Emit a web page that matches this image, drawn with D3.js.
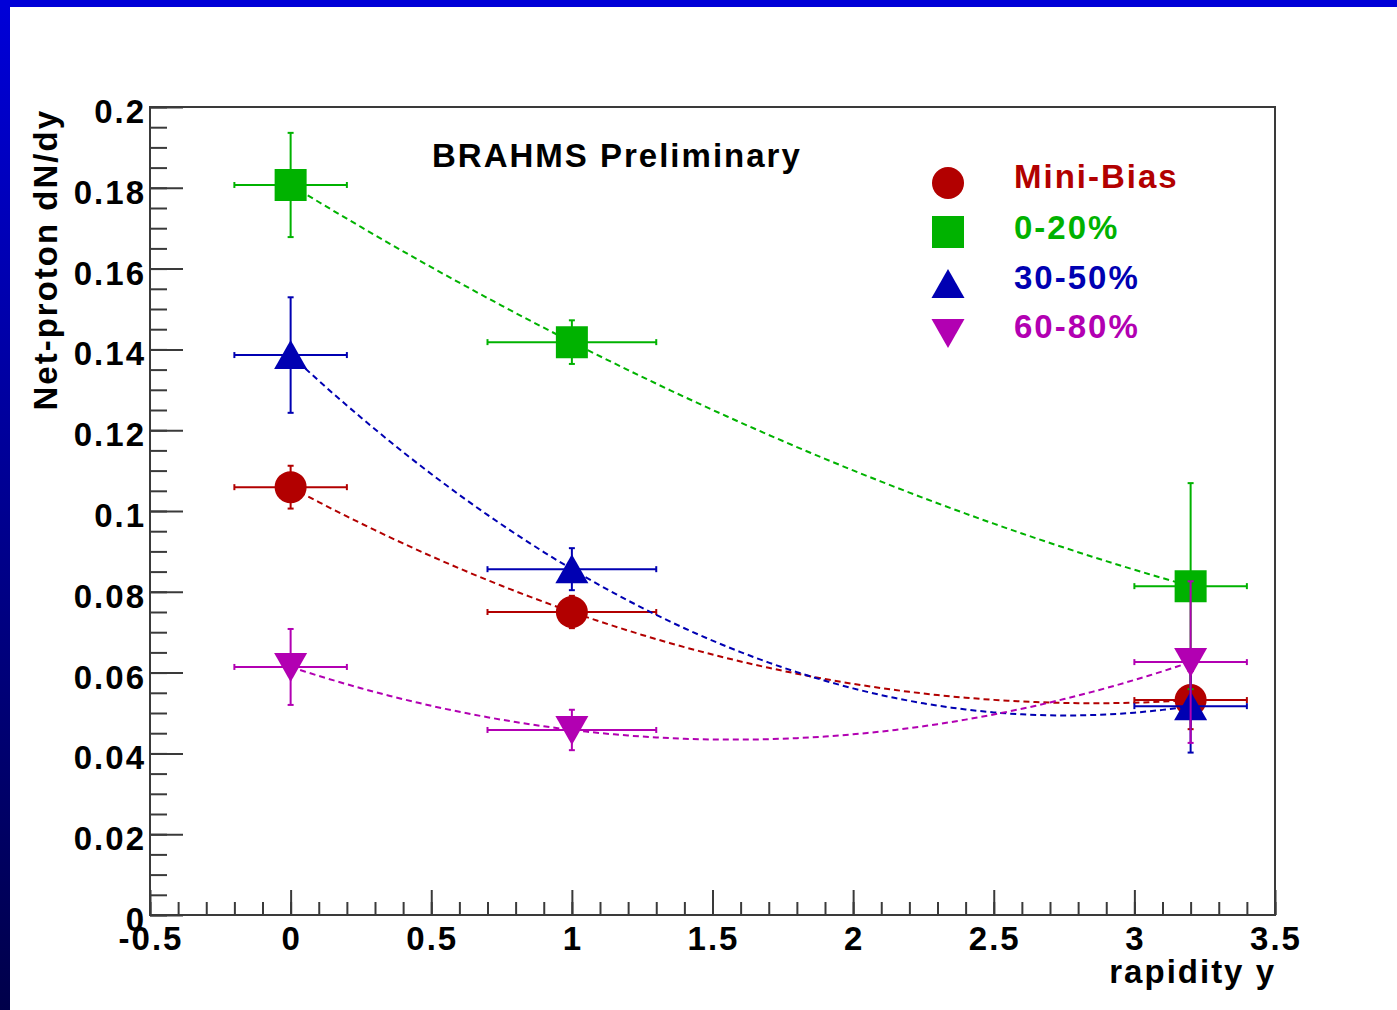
<!DOCTYPE html>
<html>
<head>
    <meta charset="utf-8" />
    <title>Net-proton dN/dy</title>
    <style>
        body {
            margin: 0;
            background: #fff;
        }

        text {
            font-family: "Liberation Sans", Helvetica, Arial, sans-serif;
            font-weight: bold;
            font-size: 33px;
            letter-spacing: 2px;
        }

        .frame {
            fill: none;
            stroke: #3a3a3a;
            stroke-width: 2;
        }

        .tick line {
            stroke: #3a3a3a;
            stroke-width: 2;
        }

        .fit {
            fill: none;
            stroke-width: 2;
            stroke-dasharray: 6, 4;
        }

        .err {
            stroke-width: 2;
        }
    </style>
</head>
<body>
    <script src="https://d3js.org/d3.v7.min.js"></script>
    <script>
        // rapidity bins and horizontal bin half-widths
        let rapidity = [0, 1, 3.2]
        let rapidityErr = [0.2, 0.3, 0.2]

        // net-proton dN/dy per centrality class
        let miniBias = [0.1059, 0.0750, 0.0532]
        let miniBiasErr = [0.0053, 0.0040, 0.0072]

        let cent0020 = [0.1807, 0.1418, 0.0814]
        let cent0020Err = [0.0129, 0.0054, 0.0255]

        let cent3050 = [0.1386, 0.0856, 0.0517]
        let cent3050Err = [0.0143, 0.0052, 0.0115]

        let cent6080 = [0.0614, 0.0458, 0.0626]
        let cent6080Err = [0.0094, 0.0050, 0.0200]

        let seriesNames = ['Mini-Bias', '0-20%', '30-50%', '60-80%']
        let seriesColors = ['#b20000', '#00b200', '#0000b2', '#b200b2']
        let seriesMarkers = ['circle', 'square', 'up', 'down']

        let xTickValues = [-0.5, 0, 0.5, 1, 1.5, 2, 2.5, 3, 3.5]
        let yTickValues = [0, 0.02, 0.04, 0.06, 0.08, 0.1, 0.12, 0.14, 0.16, 0.18, 0.2]

        let series = [
            { name: seriesNames[0], color: seriesColors[0], marker: seriesMarkers[0], y: miniBias, ey: miniBiasErr },
            { name: seriesNames[1], color: seriesColors[1], marker: seriesMarkers[1], y: cent0020, ey: cent0020Err },
            { name: seriesNames[2], color: seriesColors[2], marker: seriesMarkers[2], y: cent3050, ey: cent3050Err },
            { name: seriesNames[3], color: seriesColors[3], marker: seriesMarkers[3], y: cent6080, ey: cent6080Err }
        ]

        let W = 1397, H = 1010
        let frame = { left: 150, right: 1275, top: 107, bottom: 915 }

        let x = d3.scaleLinear().domain([-0.5, 3.5]).range([frame.left, frame.right])
        let y = d3.scaleLinear().domain([0, 0.2]).range([frame.bottom, frame.top])

        let svg = d3.select('body')
                    .append('svg')
                    .attr('width', W)
                    .attr('height', H)

        // slide border
        let defs = svg.append('defs')
        let grad = defs.append('linearGradient')
                    .attr('id', 'sideGrad')
                    .attr('x1', 0).attr('y1', 0)
                    .attr('x2', 0).attr('y2', 1)
        grad.append('stop').attr('offset', '0%').attr('stop-color', '#0000d8')
        grad.append('stop').attr('offset', '100%').attr('stop-color', '#00004a')

        svg.append('rect').attr('x', 0).attr('y', 0).attr('width', W).attr('height', H).attr('fill', '#fff')
        svg.append('rect').attr('x', 0).attr('y', 0).attr('width', 10).attr('height', H).attr('fill', 'url(#sideGrad)')
        svg.append('rect').attr('x', 0).attr('y', 0).attr('width', W).attr('height', 7).attr('fill', '#0000d8')

        // ticks (ROOT style: on the inside, along bottom and left)
        let xMinor = d3.range(-5, 36).map(function (i) { return i / 10 })
        let yMinor = d3.range(0, 41).map(function (i) { return i * 0.005 })

        let xAxis = d3.axisBottom(x).tickValues(xMinor).tickSize(-13).tickFormat('')
        let xAxisMajor = d3.axisBottom(x).tickValues(xTickValues).tickSize(-25).tickFormat('')
        let yAxis = d3.axisLeft(y).tickValues(yMinor).tickSize(-17).tickFormat('')
        let yAxisMajor = d3.axisLeft(y).tickValues(yTickValues).tickSize(-33).tickFormat('')

        ;[xAxis, xAxisMajor].forEach(function (ax) {
            svg.append('g')
                .attr('transform', `translate(0, ${frame.bottom})`)
                .call(ax)
                .call(function (g) { g.select('.domain').remove() })
        })
        ;[yAxis, yAxisMajor].forEach(function (ax) {
            svg.append('g')
                .attr('transform', `translate(${frame.left}, 0)`)
                .call(ax)
                .call(function (g) { g.select('.domain').remove() })
        })

        svg.append('rect')
            .classed('frame', true)
            .attr('x', frame.left)
            .attr('y', frame.top)
            .attr('width', frame.right - frame.left)
            .attr('height', frame.bottom - frame.top)

        // tick labels
        svg.append('g')
            .selectAll('text')
            .data(xTickValues)
            .enter()
                .append('text')
                .attr('x', function (d) { return x(d) + 1 })
                .attr('y', 950)
                .attr('text-anchor', 'middle')
                .text(function (d) { return d })

        svg.append('g')
            .selectAll('text')
            .data(yTickValues)
            .enter()
                .append('text')
                .attr('x', 146)
                .attr('y', function (d) { return y(d) + 16 })
                .attr('text-anchor', 'end')
                .text(function (d) { return d })

        // axis titles
        svg.append('text')
            .attr('x', 1276)
            .attr('y', 983)
            .attr('text-anchor', 'end')
            .text('rapidity y')

        svg.append('text')
            .attr('transform', `translate(57, ${frame.top + 2}) rotate(-90)`)
            .attr('text-anchor', 'end')
            .text('Net-proton dN/dy')

        svg.append('text')
            .attr('x', 432)
            .attr('y', 167)
            .text('BRAHMS Preliminary')

        // marker shapes
        function markerPath(type) {
            if (type === 'up') return 'M0,-15L16.5,14L-16.5,14Z'
            if (type === 'down') return 'M0,15L16.5,-14L-16.5,-14Z'
            if (type === 'square') return 'M-16,-16H16V16H-16Z'
            return d3.symbol(d3.symbolCircle, Math.PI * 16 * 16)()
        }

        // pol2 fit through the three points of a series (exact for 3 points)
        function pol2(xs, ys) {
            return function (t) {
                let s = 0
                for (let i = 0; i < 3; i++) {
                    let term = ys[i]
                    for (let j = 0; j < 3; j++) {
                        if (j !== i) term *= (t - xs[j]) / (xs[i] - xs[j])
                    }
                    s += term
                }
                return s
            }
        }

        let line = d3.line()
                    .x(function (d) { return x(d[0]) })
                    .y(function (d) { return y(d[1]) })

        let cap = 3

        series.forEach(function (s) {
            let pts = rapidity.map(function (r, i) {
                return { x: r, ex: rapidityErr[i], y: s.y[i], ey: s.ey[i] }
            })
            let g = svg.append('g')

            let f = pol2(rapidity, s.y)
            let lo = d3.min(rapidity), hi = d3.max(rapidity)
            let fitPts = d3.ticks(lo, hi, 100).map(function (t) { return [t, f(t)] })

            g.append('path')
                .classed('fit', true)
                .attr('stroke', s.color)
                .attr('d', line(fitPts))

            let eg = g.append('g').attr('stroke', s.color).classed('err', true)
            pts.forEach(function (p) {
                let cx = x(p.x), cy = y(p.y)
                let x0 = x(p.x - p.ex), x1 = x(p.x + p.ex)
                let y0 = y(p.y - p.ey), y1 = y(p.y + p.ey)
                eg.append('line').attr('x1', x0).attr('x2', x1).attr('y1', cy).attr('y2', cy)
                eg.append('line').attr('x1', cx).attr('x2', cx).attr('y1', y0).attr('y2', y1)
                eg.append('line').attr('x1', x0).attr('x2', x0).attr('y1', cy - cap).attr('y2', cy + cap)
                eg.append('line').attr('x1', x1).attr('x2', x1).attr('y1', cy - cap).attr('y2', cy + cap)
                eg.append('line').attr('x1', cx - cap).attr('x2', cx + cap).attr('y1', y0).attr('y2', y0)
                eg.append('line').attr('x1', cx - cap).attr('x2', cx + cap).attr('y1', y1).attr('y2', y1)
            })

            g.append('g')
                .selectAll('path')
                .data(pts)
                .enter()
                    .append('path')
                    .attr('transform', function (p) { return `translate(${x(p.x)}, ${y(p.y)})` })
                    .attr('d', markerPath(s.marker))
                    .attr('fill', s.color)
        })

        // legend
        let legendMarkerY = [183, 232, 284, 333]
        let legendTextY = [188, 239, 289, 338]

        let legend = svg.append('g')
        legend.selectAll('path')
            .data(series)
            .enter()
                .append('path')
                .attr('transform', function (d, i) { return `translate(948, ${legendMarkerY[i]})` })
                .attr('d', function (d) { return markerPath(d.marker) })
                .attr('fill', function (d) { return d.color })

        legend.selectAll('text')
            .data(series)
            .enter()
                .append('text')
                .attr('x', 1014)
                .attr('y', function (d, i) { return legendTextY[i] })
                .attr('fill', function (d) { return d.color })
                .text(function (d) { return d.name })
    </script>
</body>
</html>
